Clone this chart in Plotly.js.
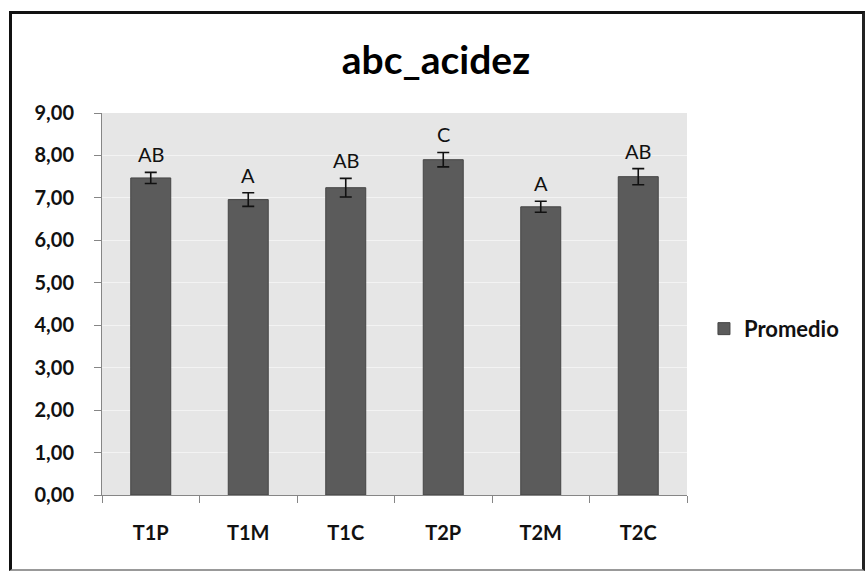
<!DOCTYPE html>
<html>
<head>
<meta charset="utf-8">
<script src="https://cdn.plot.ly/plotly-3.0.1.min.js"></script>
<style>
  html, body { margin: 0; padding: 0; background: #ffffff; }
  #wrap { position: relative; width: 865px; height: 572px; }
  #chart { position: absolute; left: 0; top: 0; width: 865px; height: 572px; }
  #frame { position: absolute; left: 9px; top: 11px; width: 850px; height: 555px;
           border-top: 3px solid #111; border-left: 3px solid #111;
           border-right: 3px solid #222; border-bottom: 2px solid #999;
           pointer-events: none; }
</style>
</head>
<body>
<div id="wrap">
  <div id="chart"></div>
  <div id="frame"></div>
</div>
<script>
const categories = ["T1P", "T1M", "T1C", "T2P", "T2M", "T2C"];
const promedio = [7.47, 6.96, 7.24, 7.90, 6.79, 7.50];
const errores = [0.13, 0.16, 0.22, 0.17, 0.13, 0.19];
const letras = ["AB", "A", "AB", "C", "A", "AB"];
const yTicks = [0, 1, 2, 3, 4, 5, 6, 7, 8, 9];

const FONT = "Lato, 'Open Sans', sans-serif";

const trace = {
  type: "bar",
  name: "Promedio",
  x: categories,
  y: promedio,
  marker: { color: "#5b5b5b", line: { color: "#454545", width: 1 } },
  error_y: { type: "data", array: errores, visible: true, color: "#111111", thickness: 1.6, width: 6 },
  showlegend: true
};

const annotations = categories.map((c, i) => ({
  x: c, y: promedio[i] + errores[i], xref: "x", yref: "y",
  text: letras[i], showarrow: false, yanchor: "bottom", yshift: 4,
  font: { family: FONT, size: 20, color: "#111111" }
}));

const layout = {
  width: 865, height: 572,
  margin: { l: 102, r: 178, t: 113, b: 77 },
  paper_bgcolor: "#ffffff",
  plot_bgcolor: "#e6e6e6",
  separators: ",.",
  bargap: 0.59,
  title: {
    text: "<b>abc_acidez</b>",
    font: { family: FONT, size: 39, color: "#000000" },
    x: 0.504, xanchor: "center", y: 0.895, yanchor: "middle", xref: "container", yref: "container"
  },
  xaxis: {
    type: "category",
    showline: true, linecolor: "#868686", linewidth: 1,
    ticks: "outside", tickson: "boundaries", ticklen: 7, tickcolor: "#868686",
    ticklabelstandoff: 20,
    tickfont: { family: FONT, size: 20, color: "#111111", weight: "bold" },
    showgrid: false, zeroline: false
  },
  yaxis: {
    range: [0, 9],
    tickvals: yTicks,
    tickformat: ".2f",
    showline: true, linecolor: "#868686", linewidth: 1,
    ticks: "outside", ticklen: 7, tickcolor: "#868686",
    ticklabelstandoff: 16,
    tickfont: { family: FONT, size: 20, color: "#111111", weight: "bold" },
    gridcolor: "#f3f3f3", gridwidth: 1,
    zeroline: false
  },
  legend: {
    x: 1.029, xanchor: "left", y: 0.435, yanchor: "middle",
    font: { family: FONT, size: 22, color: "#111111", weight: "bold" },
    bgcolor: "rgba(0,0,0,0)", itemwidth: 30
  },
  annotations: annotations
};

Plotly.newPlot("chart", [trace], layout, { displayModeBar: false, staticPlot: true });
</script>
</body>
</html>
